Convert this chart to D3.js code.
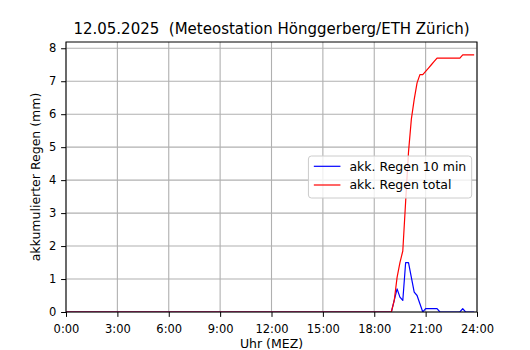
<!DOCTYPE html>
<html>
<head>
<meta charset="utf-8">
<script src="https://cdn.jsdelivr.net/npm/d3@7"></script>
<style>
  body { margin: 0; background: #fff; }
  svg { display: block; font-family: "DejaVu Sans", sans-serif; }
</style>
</head>
<body>
<script>
// Chart data (times as H:MM, rain in mm)
const title = "12.05.2025  (Meteostation Hönggerberg/ETH Zürich)";
const xTickLabels = ["0:00", "3:00", "6:00", "9:00", "12:00", "15:00", "18:00", "21:00", "24:00"];
const yTicks = [0, 1, 2, 3, 4, 5, 6, 7, 8];

const rain10Times = ["0:00", "19:00", "19:10", "19:20", "19:30", "19:40", "19:50", "20:00", "20:10",
  "20:20", "20:30", "20:40", "20:50", "21:00", "21:40", "21:50", "23:00", "23:10", "23:20", "23:50"];
const rain10 = [0, 0, 0.35, 0.7, 0.45, 0.35, 1.5, 1.5, 1.05,
  0.6, 0.5, 0.25, 0, 0.1, 0.1, 0, 0, 0.1, 0, 0];

const rainTotalTimes = ["0:00", "19:00", "19:10", "19:20", "19:30", "19:40", "19:50", "20:00", "20:10",
  "20:20", "20:30", "20:40", "20:50", "21:00", "21:10", "21:20", "21:30", "21:40", "23:00", "23:10", "23:50"];
const rainTotal = [0, 0, 0.35, 1.05, 1.5, 1.85, 3.35, 4.85, 5.85,
  6.45, 6.95, 7.2, 7.2, 7.3, 7.4, 7.5, 7.6, 7.7, 7.7, 7.8, 7.8];

const seriesNames = ["akk. Regen 10 min", "akk. Regen total"];
const seriesColors = ["#0000ff", "#ff0000"];

const width = 530, height = 350;
const margin = {top: 42, right: 53, bottom: 38, left: 66};

// "H:MM" -> minutes
const toMin = (s) => {
  const [h, m] = s.split(":").map(Number);
  return h * 60 + m;
};

const svg = d3.select("body").append("svg")
  .attr("width", width)
  .attr("height", height);

const x = d3.scaleLinear()
  .domain([0, 1440])
  .range([margin.left, width - margin.right]);

const yMax = d3.max(rainTotal) * 1.05;
const y = d3.scaleLinear()
  .domain([0, yMax])
  .range([height - margin.bottom, margin.top]);

// grid
const grid = svg.append("g").attr("stroke", "#b0b0b0").attr("stroke-width", 1.1);
grid.selectAll("line.vx")
  .data(xTickLabels)
  .join("line")
  .attr("x1", d => x(toMin(d))).attr("x2", d => x(toMin(d)))
  .attr("y1", y(0)).attr("y2", y(yMax));
grid.selectAll("line.hy")
  .data(yTicks)
  .join("line")
  .attr("class", "hy")
  .attr("x1", x(0)).attr("x2", x(1440))
  .attr("y1", d => y(d)).attr("y2", d => y(d));

// clip to plot area
svg.append("defs").append("clipPath").attr("id", "plot-clip")
  .append("rect")
  .attr("x", x(0)).attr("y", y(yMax))
  .attr("width", x(1440) - x(0)).attr("height", y(0) - y(yMax));

const line = d3.line()
  .x(d => x(toMin(d[0])))
  .y(d => y(d[1]));

const plot = svg.append("g").attr("clip-path", "url(#plot-clip)");

plot.append("path")
  .datum(d3.zip(rain10Times, rain10))
  .attr("fill", "none")
  .attr("stroke", seriesColors[0])
  .attr("stroke-width", 1.2)
  .attr("stroke-linejoin", "round")
  .attr("d", line);

plot.append("path")
  .datum(d3.zip(rainTotalTimes, rainTotal))
  .attr("fill", "none")
  .attr("stroke", seriesColors[1])
  .attr("stroke-width", 1.2)
  .attr("stroke-linejoin", "round")
  .attr("d", line);

// axes
const xAxis = svg.append("g")
  .attr("transform", `translate(0,${y(0)})`)
  .call(d3.axisBottom(x)
    .tickValues(xTickLabels.map(toMin))
    .tickFormat((d, i) => xTickLabels[i])
    .tickSize(4.9)
    .tickPadding(8.3)
    .tickSizeOuter(0));

const yAxis = svg.append("g")
  .attr("transform", `translate(${x(0)},0)`)
  .call(d3.axisLeft(y)
    .tickValues(yTicks)
    .tickFormat(d3.format("d"))
    .tickSize(4.9)
    .tickPadding(4.9)
    .tickSizeOuter(0));

[xAxis, yAxis].forEach(g => {
  g.select(".domain").remove();
  g.selectAll("line").attr("stroke", "#000").attr("stroke-width", 1);
  g.selectAll("text")
    .attr("fill", "#000")
    .style("font-family", "DejaVu Sans")
    .style("font-size", "11.5px");
});

// frame
svg.append("rect")
  .attr("x", x(0)).attr("y", y(yMax))
  .attr("width", x(1440) - x(0)).attr("height", y(0) - y(yMax))
  .attr("fill", "none")
  .attr("stroke", "#000")
  .attr("stroke-width", 1);

// title and axis labels
svg.append("text")
  .attr("x", (x(0) + x(1440)) / 2)
  .attr("y", 34)
  .attr("text-anchor", "middle")
  .style("font-size", "15px")
  .style("white-space", "pre")
  .text(title);

svg.append("text")
  .attr("x", (x(0) + x(1440)) / 2)
  .attr("y", 347.5)
  .attr("text-anchor", "middle")
  .style("font-size", "12.5px")
  .text("Uhr (MEZ)");

svg.append("text")
  .attr("transform", `translate(40,${(y(0) + y(yMax)) / 2}) rotate(-90)`)
  .attr("text-anchor", "middle")
  .style("font-size", "12.5px")
  .text("akkumulierter Regen (mm)");

// legend (center right)
const legend = svg.append("g");
const legendBox = legend.append("rect")
  .attr("rx", 3).attr("ry", 3)
  .attr("fill", "rgba(255,255,255,0.8)")
  .attr("stroke", "#cccccc")
  .attr("stroke-width", 1);

const items = legend.selectAll("g.item")
  .data(seriesNames)
  .join("g")
  .attr("class", "item");

items.append("line")
  .attr("x1", 0).attr("x2", 26.6)
  .attr("y1", 0).attr("y2", 0)
  .attr("stroke", (d, i) => seriesColors[i])
  .attr("stroke-width", 1.2);

items.append("text")
  .attr("x", 35.6)
  .attr("dy", "0.35em")
  .style("font-size", "12.5px")
  .text(d => d);

const textW = d3.max(items.selectAll("text").nodes(), n => n.getComputedTextLength());
const boxW = 35.6 + textW + 5.4 + 5.4;
const boxRight = x(1440) - 5.3;
const boxLeft = boxRight - boxW;
const midY = (y(0) + y(yMax)) / 2;
legendBox
  .attr("x", boxLeft).attr("y", midY - 21)
  .attr("width", boxW).attr("height", 42);
items.attr("transform", (d, i) => `translate(${boxLeft + 5.4},${midY - 10.7 + i * 18.7})`);
</script>
</body>
</html>
